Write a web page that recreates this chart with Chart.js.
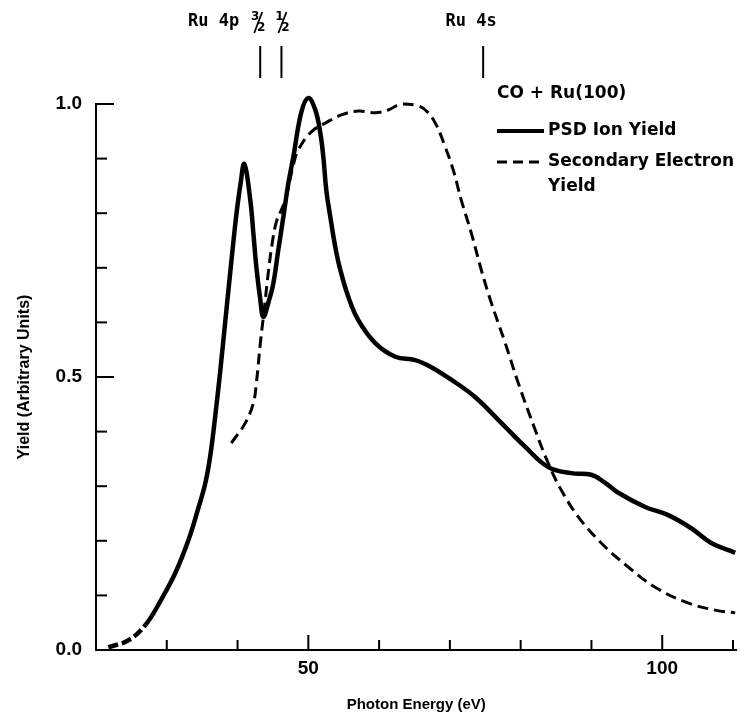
<!DOCTYPE html>
<html>
<head>
<meta charset="utf-8">
<script src="https://cdn.jsdelivr.net/npm/chart.js@4.4.1/dist/chart.umd.min.js"></script>
<style>
  body { margin: 0; background: #fff; }
  canvas { display: block; }
</style>
</head>
<body>
<canvas id="yieldChart" width="740" height="718"></canvas>
<script>
// PSD ion yield (solid line), photon energy in eV
const energySolid = [21.75, 24.6, 27.0, 29.2, 31.2, 33.05, 34.46, 35.45, 36.16, 36.86, 37.57, 38.28, 39.12, 39.83, 40.4, 40.96,
    41.8, 42.23, 42.66, 43.22, 43.64, 44.35, 45.06, 45.76, 46.47, 47.18, 47.88, 49.01, 50.0, 50.99, 51.69,
    52.12, 52.54, 53.11, 53.81, 54.52, 55.65, 57.06, 59.46, 62.29, 65.11, 67.37, 70.2, 73.59, 77.26, 80.65,
    83.9, 87.15, 89.97, 91.95, 93.79, 97.6, 100.85, 104.1, 106.92, 110.31];
const yieldSolid = [0.005, 0.018, 0.046, 0.092, 0.141, 0.201, 0.260, 0.306, 0.357, 0.430, 0.513, 0.604, 0.711, 0.797, 0.852, 0.890,
    0.824, 0.764, 0.701, 0.641, 0.610, 0.636, 0.672, 0.733, 0.793, 0.855, 0.903, 0.985, 1.011, 0.989, 0.947,
    0.903, 0.842, 0.793, 0.738, 0.696, 0.647, 0.604, 0.562, 0.537, 0.531, 0.518, 0.495, 0.463, 0.416, 0.372,
    0.335, 0.324, 0.321, 0.306, 0.288, 0.262, 0.247, 0.223, 0.196, 0.178];

// Secondary electron yield (dashed line)
const energyDashed = [39.12, 41.1, 42.23, 42.66, 43.22, 43.79, 44.35, 44.92, 45.48, 46.19, 46.75, 47.88, 48.59,
    50.42, 52.4, 54.66, 57.06, 59.46, 61.3, 63.14, 65.11, 66.53, 67.94, 69.35, 70.48, 71.61, 73.02, 74.44,
    75.85, 77.82, 79.66, 82.06, 83.9, 85.73, 88.14, 91.38, 95.2, 99.0, 103.25, 107.49, 110.31];
const yieldDashed = [0.379, 0.416, 0.452, 0.489, 0.562, 0.626, 0.692, 0.747, 0.784, 0.806, 0.824, 0.888, 0.916,
    0.949, 0.965, 0.980, 0.987, 0.984, 0.989, 1.000, 0.998, 0.989, 0.965, 0.921, 0.879, 0.824, 0.764, 0.696,
    0.636, 0.562, 0.489, 0.403, 0.342, 0.293, 0.244, 0.196, 0.152, 0.115, 0.088, 0.073, 0.068];

// axis ticks
const xTickValues = [30, 40, 50, 60, 70, 80, 90, 100, 110];
const xLabeled = [50, 100];
const yTickValues = [0, 0.1, 0.2, 0.3, 0.4, 0.5, 0.6, 0.7, 0.8, 0.9, 1.0];
const yLabeled = [0, 0.5, 1.0];

// absorption edges marked along the top
const edgeEnergies = [43.2, 46.2, 74.7];

const legendTitle = 'CO + Ru(100)';
const seriesNames = ['PSD Ion Yield', 'Secondary Electron', 'Yield'];

const toPoints = (xs, ys) => xs.map((x, i) => ({ x: x, y: ys[i] }));

// ticks pointing into the plot, longer at labelled values
const inwardTicks = {
    id: 'inwardTicks',
    afterDraw(chart) {
        const { ctx, chartArea, scales: { x, y } } = chart;
        ctx.save();
        ctx.strokeStyle = '#000';
        ctx.lineWidth = 2;
        x.ticks.forEach(t => {
            const px = x.getPixelForValue(t.value);
            const len = xLabeled.includes(t.value) ? 15 : 10;
            ctx.beginPath();
            ctx.moveTo(px, chartArea.bottom);
            ctx.lineTo(px, chartArea.bottom - len);
            ctx.stroke();
        });
        y.ticks.forEach(t => {
            const py = y.getPixelForValue(t.value);
            const len = yLabeled.includes(t.value) ? 18 : 11;
            ctx.beginPath();
            ctx.moveTo(chartArea.left, py);
            ctx.lineTo(chartArea.left + len, py);
            ctx.stroke();
        });
        ctx.restore();
    }
};

// edge markers at the top and the text legend on the right
const annotations = {
    id: 'annotations',
    afterDraw(chart) {
        const { ctx, scales: { x } } = chart;
        ctx.save();
        ctx.fillStyle = '#000';
        ctx.strokeStyle = '#000';
        ctx.lineWidth = 2;

        const px = edgeEnergies.map(e => x.getPixelForValue(e));
        px.forEach(p => {
            ctx.beginPath();
            ctx.moveTo(p, 46);
            ctx.lineTo(p, 78);
            ctx.stroke();
        });

        ctx.font = 'bold 17px "DejaVu Sans Mono"';
        ctx.textBaseline = 'middle';
        ctx.textAlign = 'right';
        ctx.fillText('Ru 4p', px[0] - 21, 22);
        ctx.textAlign = 'center';
        ctx.fillText('Ru 4s', px[2] - 12, 22);

        // fractions 3/2 and 1/2
        const frac = (cx, num) => {
            ctx.font = 'bold 12px "DejaVu Sans"';
            ctx.textAlign = 'center';
            ctx.fillText(num, cx - 3, 17);
            ctx.fillText('2', cx + 3, 28);
            ctx.lineWidth = 1.8;
            ctx.beginPath();
            ctx.moveTo(cx - 4, 33);
            ctx.lineTo(cx + 4, 12);
            ctx.stroke();
        };
        frac(px[0] - 2, '3');
        frac(px[1] + 1, '1');

        // legend
        ctx.font = 'bold 17px "DejaVu Sans"';
        ctx.textAlign = 'left';
        ctx.fillText(legendTitle, 497, 94);
        ctx.fillText(seriesNames[0], 548, 131);
        ctx.fillText(seriesNames[1], 548, 162);
        ctx.fillText(seriesNames[2], 548, 187);

        ctx.lineWidth = 4;
        ctx.beginPath();
        ctx.moveTo(497, 131);
        ctx.lineTo(544, 131);
        ctx.stroke();
        ctx.lineWidth = 3;
        ctx.setLineDash([10, 6]);
        ctx.beginPath();
        ctx.moveTo(497, 162);
        ctx.lineTo(542, 162);
        ctx.stroke();
        ctx.restore();
    }
};

new Chart(document.getElementById('yieldChart'), {
    type: 'line',
    data: {
        datasets: [{
            label: seriesNames[0],
            data: toPoints(energySolid, yieldSolid),
            borderColor: '#000',
            borderWidth: 4.5,
            pointRadius: 0,
            tension: 0.4,
            clip: false,
            segment: {
                borderDash: ctx => ctx.p1.parsed.x <= 27.5 ? [10, 4] : undefined
            }
        }, {
            label: seriesNames[1] + ' ' + seriesNames[2],
            data: toPoints(energyDashed, yieldDashed),
            borderColor: '#000',
            borderWidth: 3,
            borderDash: [11, 6],
            pointRadius: 0,
            tension: 0.4,
            clip: false
        }]
    },
    options: {
        responsive: false,
        animation: false,
        devicePixelRatio: 1,
        layout: { padding: { top: 104, right: 1, left: 0, bottom: 0 } },
        plugins: {
            legend: { display: false },
            tooltip: { enabled: false }
        },
        scales: {
            x: {
                type: 'linear',
                min: 20,
                max: 110.5,
                afterBuildTicks: scale => { scale.ticks = xTickValues.map(v => ({ value: v })); },
                afterFit: scale => { scale.height = 68; },
                grid: { drawOnChartArea: false, drawTicks: false },
                border: { display: true, color: '#000', width: 2 },
                ticks: {
                    autoSkip: false,
                    maxRotation: 0,
                    padding: 7,
                    color: '#000',
                    font: { family: '"Liberation Sans", Arial, sans-serif', weight: 'bold', size: 19 },
                    callback: v => xLabeled.includes(v) ? String(v) : ''
                },
                title: {
                    display: true,
                    text: 'Photon Energy (eV)',
                    color: '#000',
                    padding: { top: 0, bottom: 4 },
                    font: { family: '"Liberation Sans", Arial, sans-serif', weight: 'bold', size: 15 }
                }
            },
            y: {
                type: 'linear',
                min: 0,
                max: 1.0,
                afterBuildTicks: scale => { scale.ticks = yTickValues.map(v => ({ value: v })); },
                afterFit: scale => { scale.width = 96; },
                grid: { drawOnChartArea: false, drawTicks: false },
                border: { display: true, color: '#000', width: 2 },
                ticks: {
                    autoSkip: false,
                    padding: 14,
                    color: '#000',
                    font: { family: '"Liberation Sans", Arial, sans-serif', weight: 'bold', size: 19 },
                    callback: v => yLabeled.includes(v) ? v.toFixed(1) : ''
                },
                title: {
                    display: true,
                    text: 'Yield (Arbitrary Units)',
                    color: '#000',
                    padding: { top: 15, bottom: 0 },
                    font: { family: '"Liberation Sans", Arial, sans-serif', weight: 'bold', size: 16 }
                }
            }
        }
    },
    plugins: [inwardTicks, annotations]
});
</script>
</body>
</html>
